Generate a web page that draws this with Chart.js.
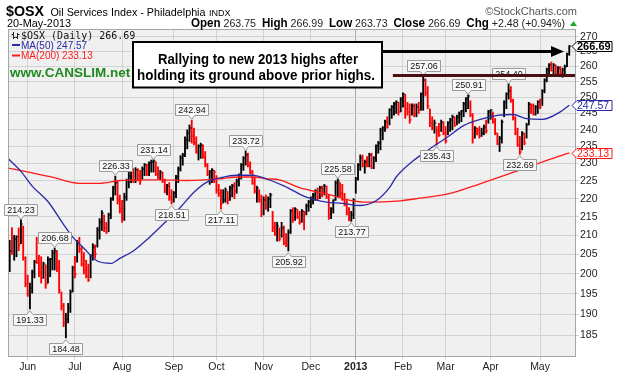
<!DOCTYPE html>
<html><head><meta charset="utf-8">
<script src="https://cdn.jsdelivr.net/npm/chart.js@4.4.0/dist/chart.umd.min.js"></script>
<style>html,body{margin:0;padding:0;background:#fff;overflow:hidden}canvas{display:block}</style>
</head><body><canvas id="c" width="618" height="375"></canvas>
<script>
// ---- data (daily bars, index 0 = 21-May-2012 ... 249 = 20-May-2013) ----
const highs = [
208.7,212.1,210.0,209.9,212.0,214.23,212.5,204.4,199.7,197.7,
201.0,203.5,209.5,204.8,204.4,203.0,202.3,204.4,204.0,206.1,
206.68,206.0,203.5,195.5,192.7,190.3,192.7,196.0,202.0,204.5,
208.7,209.5,207.0,205.5,203.5,202.5,205.0,207.8,207.5,212.1,
214.5,216.7,215.5,213.5,216.0,220.3,223.5,226.33,225.0,221.0,
219.5,221.5,225.5,227.5,228.5,228.5,228.8,228.5,228.0,229.0,
230.0,229.8,230.5,231.0,231.14,230.5,229.0,228.0,227.5,225.5,
224.0,224.5,222.5,222.0,226.6,229.0,232.3,233.0,237.9,240.0,
241.5,242.94,240.5,237.9,235.5,236.0,235.5,233.5,230.0,228.0,
228.5,228.0,226.5,224.0,222.5,222.5,223.0,222.0,223.5,224.0,
224.5,225.5,227.0,230.0,232.0,233.72,233.0,230.5,228.0,226.0,
223.5,222.5,221.0,220.5,221.0,220.5,221.5,216.5,213.5,213.5,
212.0,213.5,212.5,210.5,211.5,217.0,217.5,217.5,217.0,216.5,
217.0,216.5,218.5,219.5,220.5,221.5,222.5,223.0,223.5,223.5,
224.0,223.5,221.0,217.5,219.7,225.0,225.58,224.5,224.0,221.5,
219.5,217.5,216.5,220.0,226.0,230.0,232.5,232.5,231.0,232.0,
233.0,233.0,232.0,235.5,236.5,240.5,241.0,243.0,244.0,246.5,
247.5,248.5,249.0,248.5,250.0,251.5,251.0,248.5,248.0,248.0,
248.0,248.0,248.5,251.5,257.06,256.0,253.5,246.5,244.0,243.0,
241.0,242.0,243.0,242.5,241.0,242.5,243.5,244.5,244.0,244.5,
245.5,246.0,248.5,250.0,250.91,249.0,245.0,241.0,240.5,241.0,
240.5,241.5,243.0,246.0,246.2,245.5,243.5,239.0,238.0,243.0,
249.0,251.5,254.4,253.5,249.5,244.0,240.5,238.0,239.5,239.0,
242.0,248.5,248.0,248.0,247.5,249.0,249.5,252.5,256.0,259.5,
261.0,261.5,261.0,260.5,260.0,260.0,259.5,260.5,264.5,266.99];
const lows = [
200.6,205.0,203.5,204.4,206.0,207.8,203.5,196.8,194.4,191.33,
195.2,199.0,202.7,199.3,197.7,198.9,196.4,197.7,199.3,201.0,
201.0,200.6,195.2,191.1,187.1,184.48,188.0,190.5,195.5,199.0,
203.0,205.5,202.0,200.0,199.0,198.1,199.0,203.5,204.0,206.9,
209.0,211.3,211.0,210.5,211.0,214.5,219.5,221.0,218.5,216.0,
213.5,214.0,219.5,223.0,224.5,224.5,224.5,225.0,224.0,225.5,
226.5,226.5,226.5,227.5,227.5,226.5,225.5,225.3,224.5,221.6,
221.0,219.5,218.51,219.0,220.3,224.5,227.8,229.5,232.0,234.3,
236.5,236.0,235.5,233.0,231.0,231.5,231.5,229.0,226.5,224.0,
224.5,224.5,221.5,220.6,217.11,218.8,219.0,218.5,219.5,220.5,
220.0,221.5,223.5,225.5,228.0,229.5,229.0,227.0,224.0,221.5,
219.0,219.0,215.0,215.5,217.0,216.5,217.5,211.0,210.0,208.5,
208.5,209.5,207.5,207.0,205.92,210.5,213.5,214.0,214.5,213.0,
213.5,211.5,215.5,216.5,217.5,218.5,219.5,219.5,220.0,220.5,
221.0,220.0,214.3,214.5,216.0,219.5,220.5,220.5,219.5,218.0,
215.5,213.9,213.77,214.5,221.5,225.2,228.0,229.0,227.2,229.0,
229.0,228.5,228.5,230.5,233.0,234.0,237.0,239.5,240.5,241.5,
243.5,244.5,245.0,244.5,245.5,247.0,243.5,244.5,242.0,244.5,
244.0,244.0,245.0,246.0,246.0,250.5,246.5,241.0,240.0,239.0,
235.43,238.0,239.5,238.5,236.0,238.5,239.5,240.0,241.0,241.5,
242.0,242.5,244.0,245.5,246.5,244.0,236.0,237.5,238.5,237.5,
238.0,238.5,239.0,242.0,243.2,242.0,238.5,235.5,233.5,236.0,
244.0,246.5,249.5,248.5,243.0,238.5,235.0,232.69,234.0,235.5,
237.5,241.5,245.0,244.5,244.5,245.0,246.5,247.5,251.5,255.0,
257.5,258.5,257.5,257.0,257.0,257.5,256.5,257.5,260.0,263.73];
const closes = [
206.0,205.5,209.0,209.5,207.5,213.0,204.0,197.5,195.0,196.5,
200.5,203.0,202.8,200.5,199.0,202.5,197.5,203.5,203.8,205.5,
206.0,201.5,196.0,192.0,188.0,189.0,191.5,195.5,201.5,200.0,
208.0,206.5,202.5,201.0,199.5,198.5,204.5,207.0,205.0,211.5,
213.5,216.0,212.0,211.0,215.5,219.8,223.0,224.5,219.5,217.0,
214.5,220.5,225.0,226.5,228.0,225.0,228.0,226.5,225.0,228.5,
229.5,227.0,230.0,230.5,230.8,227.0,226.0,227.5,225.0,222.5,
223.5,220.5,219.5,221.5,226.0,228.5,231.5,232.5,237.0,239.0,
240.5,238.0,236.0,233.5,235.0,235.5,232.0,229.5,227.0,227.5,
228.0,227.5,222.5,221.5,218.5,219.5,222.5,219.5,223.0,223.5,
222.0,225.0,226.5,229.5,231.5,232.5,229.5,227.5,224.5,222.0,
223.0,219.5,216.0,219.5,218.0,220.0,221.0,212.0,210.5,212.5,
209.0,212.0,208.0,207.5,211.0,216.5,214.0,217.0,215.0,213.5,
216.5,216.0,218.0,219.0,220.0,221.0,222.0,220.5,223.0,221.5,
223.5,220.5,215.0,217.0,219.5,224.5,225.0,221.5,220.0,218.5,
216.0,214.0,215.5,219.5,225.5,229.5,231.5,229.5,230.5,229.5,
232.5,229.0,231.5,235.0,236.0,240.0,240.5,242.5,241.0,246.0,
247.0,248.0,248.5,245.5,249.5,251.0,246.5,245.5,243.0,247.5,
245.0,247.0,246.0,251.0,255.5,251.5,247.5,242.0,240.5,242.0,
239.5,238.5,242.5,239.0,236.5,242.0,243.0,244.0,241.5,244.0,
245.0,245.8,248.0,249.5,250.5,244.5,237.5,240.5,240.0,238.0,
239.0,241.0,239.5,245.5,246.0,242.5,239.0,236.0,237.5,242.5,
248.5,251.0,252.0,249.0,243.5,239.0,235.5,233.5,239.0,236.0,
241.5,248.0,247.5,245.0,247.0,248.5,247.0,252.0,255.5,259.0,
260.5,259.0,260.5,257.5,259.5,258.0,259.0,260.0,264.21,266.69];

const ma50Idx = [-1,5,10,17,24,28,33,39,45,49,55,62,70,76,82,88,94,101,108,114,122,132,141,148,156,163,169,172,180,187,195,202,209,217,224,230,237,245,249];
const ma50 = [231.6,227.7,223.5,219.2,212.9,209.6,206.6,203.3,202.7,204.0,205.9,209.4,214.0,217.6,221.8,224.7,225.9,226.6,226.6,225.6,223.6,220.4,219.0,218.7,218.1,219.4,223.1,226.1,231.0,234.3,237.9,241.3,243.1,244.4,244.7,243.4,243.2,245.5,247.57];
const ma200Idx = [-1,9,18,31,40,49,58,67,79,94,102,108,114,120,129,141,151,159,174,180,195,209,224,239,249];
const ma200 = [228.7,227.4,226.2,224.3,224.3,225.1,225.3,225.3,225.1,225.6,226.1,226.1,225.6,225.3,223.1,221.3,219.6,219.0,219.4,219.9,221.3,224.1,227.4,230.9,233.13];

const monthTickIdx = [8,29,50,73,92,113,134,154,175,194,214,236];
const monthLabels = ['Jun','Jul','Aug','Sep','Oct','Nov','Dec','2013','Feb','Mar','Apr','May'];
const yTicks = [185,190,195,200,205,210,215,220,225,230,235,240,245,250,255,260,265,270];

const calloutIdx  = [5,9,20,25,47,64,72,81,94,105,124,146,152,184,190,204,222,227];
const calloutSide = ['high','low','high','low','high','high','low','high','low','high','low','high','low','high','low','high','high','low'];

const titleSym = '$OSX', titleName = 'Oil Services Index - Philadelphia', titleExch = 'INDX';
const dateLabel = '20-May-2013';
const ohlcLabels = ['Open','High','Low','Close','Chg'];
const ohlcValues = ['263.75','266.99','263.73','266.69','+2.48 (+0.94%)'];
const noteLines = ['Rallying to new 2013 highs after','holding its ground above prior highs.'];

// ---- styling ----
const SANS = "Arial, 'Liberation Sans', Helvetica, sans-serif";
const MONO = "'DejaVu Sans Mono', 'Liberation Mono', monospace";
const RED = '#ff0000', BLUE = '#2a2aa6', RED_MA = '#ff1a1a', GREEN = '#1f8a1f';
const barColors = closes.map((c,i)=> (i>0 && c<closes[i-1]) ? RED : '#000000');

const decor = {
  id:'decor',
  beforeDraw(chart){
    const {ctx, chartArea:a} = chart;
    ctx.save();
    ctx.fillStyle='#ffffff'; ctx.fillRect(0,0,chart.width,chart.height);
    ctx.fillStyle='#f0f0f0'; ctx.fillRect(a.left,a.top,a.right-a.left,a.bottom-a.top);
    ctx.restore();
  },
  afterDatasetDraw(chart,args){
    if(args.index!==2) return;
    const {ctx, chartArea:a} = chart; const xs=chart.scales.x, ys=chart.scales.y;
    ctx.save(); ctx.beginPath(); ctx.rect(a.left,a.top,a.right-a.left,a.bottom-a.top); ctx.clip();
    closes.forEach((c,i)=>{
      const x=xs.getPixelForValue(i), y=ys.getPixelForValue(c);
      ctx.fillStyle=barColors[i]; ctx.fillRect(x+0.3, Math.round(y)-0.5, 1.6, 1);
    });
    ctx.restore();
  },
  afterDraw(chart){
    const {ctx, chartArea:a} = chart; const xs=chart.scales.x, ys=chart.scales.y;
    ctx.save();
    // plot border
    ctx.strokeStyle='#9ea8a8'; ctx.lineWidth=1;
    ctx.strokeRect(a.left+0.5,a.top+0.5,a.right-a.left-1,a.bottom-a.top-1);

    // callouts
    ctx.font='9px '+SANS; ctx.textAlign='center'; ctx.textBaseline='middle';
    calloutIdx.forEach((i,k)=>{
      const up = calloutSide[k]==='high';
      const v = up ? highs[i] : lows[i];
      const x = xs.getPixelForValue(i), y = ys.getPixelForValue(v);
      const t = v.toFixed(2);
      const w = Math.round(ctx.measureText(t).width)+5, h=11;
      const bx = Math.round(x-w/2)+0.5;
      const by = up ? Math.round(y-5-h)+0.5 : Math.round(y+5)+0.5;
      ctx.beginPath();
      if(up){ ctx.moveTo(bx,by); ctx.lineTo(bx+w,by); ctx.lineTo(bx+w,by+h); ctx.lineTo(x+3,by+h); ctx.lineTo(x,by+h+4); ctx.lineTo(x-3,by+h); ctx.lineTo(bx,by+h); }
      else { ctx.moveTo(bx,by); ctx.lineTo(x-3,by); ctx.lineTo(x,by-4); ctx.lineTo(x+3,by); ctx.lineTo(bx+w,by); ctx.lineTo(bx+w,by+h); ctx.lineTo(bx,by+h); }
      ctx.closePath(); ctx.fillStyle='#f8f8f8'; ctx.fill(); ctx.strokeStyle='#9a9a9a'; ctx.lineWidth=1; ctx.stroke();
      ctx.fillStyle='#111'; ctx.fillText(t, bx+w/2, by+h/2+0.5);
    });

    // prior-high line at 257.06
    const yh = ys.getPixelForValue(highs[184]);
    ctx.strokeStyle='#4b1010'; ctx.lineWidth=3;
    ctx.beginPath(); ctx.moveTo(xs.getPixelForValue(170.5), yh); ctx.lineTo(a.right-1, yh); ctx.stroke();

    // annotation box + arrow
    const ya = ys.getPixelForValue(265);
    ctx.strokeStyle='#000'; ctx.lineWidth=3;
    ctx.beginPath(); ctx.moveTo(382, ya); ctx.lineTo(553, ya); ctx.stroke();
    ctx.fillStyle='#000'; ctx.beginPath(); ctx.moveTo(551,ya-5.5); ctx.lineTo(564,ya); ctx.lineTo(551,ya+5.5); ctx.closePath(); ctx.fill();
    ctx.fillStyle='#fff'; ctx.fillRect(133,42,249,45.5);
    ctx.lineWidth=2; ctx.strokeRect(133,42,249,45.5);
    ctx.fillStyle='#000'; ctx.font='bold 15px '+SANS; ctx.textAlign='center'; ctx.textBaseline='alphabetic';
    ctx.fillText(noteLines[0], 258, 64, 200);
    ctx.fillText(noteLines[1], 256, 80, 238);

    // right value tags
    const tag=(v,txt,col,bold)=>{
      const y=Math.round(ys.getPixelForValue(v))+0.5, x0=572, x1=612;
      ctx.beginPath(); ctx.moveTo(x0,y); ctx.lineTo(x0+5,y-5); ctx.lineTo(x1,y-5); ctx.lineTo(x1,y+5); ctx.lineTo(x0+5,y+5); ctx.closePath();
      ctx.fillStyle='#fff'; ctx.fill(); ctx.strokeStyle=col; ctx.lineWidth=1; ctx.stroke();
      ctx.fillStyle=col; ctx.font=(bold?'bold 11px ':'10.5px ')+SANS; ctx.textAlign='left'; ctx.textBaseline='middle';
      ctx.fillText(txt, x0+5, y+0.5, 34);
    };
    tag(closes[249], closes[249].toFixed(2), '#000', true);
    tag(ma50[ma50.length-1], ma50[ma50.length-1].toFixed(2), BLUE, false);
    tag(ma200[ma200.length-1], ma200[ma200.length-1].toFixed(2), RED_MA, false);

    // legend inside plot
    ctx.textAlign='left'; ctx.textBaseline='alphabetic';
    ctx.strokeStyle='#222'; ctx.lineWidth=1;
    ctx.beginPath();
    ctx.moveTo(13.5,32); ctx.lineTo(13.5,39); ctx.moveTo(11.5,34.5); ctx.lineTo(13.5,34.5); ctx.moveTo(13.5,37.5); ctx.lineTo(15.5,37.5);
    ctx.moveTo(17.5,33); ctx.lineTo(17.5,39); ctx.moveTo(15.5,37.5); ctx.lineTo(17.5,37.5); ctx.moveTo(17.5,34.5); ctx.lineTo(19.5,34.5);
    ctx.stroke();
    ctx.fillStyle='#111'; ctx.font='10px '+MONO;
    ctx.fillText(titleSym+' (Daily) '+closes[249].toFixed(2), 21, 38.5, 117);
    ctx.fillStyle=BLUE; ctx.fillRect(12,44,8,2);
    ctx.font='10px '+SANS; ctx.fillText('MA(50) '+ma50[ma50.length-1].toFixed(2), 21, 48.5);
    ctx.fillStyle=RED_MA; ctx.fillRect(12,54.5,8,2);
    ctx.fillText('MA(200) '+ma200[ma200.length-1].toFixed(2), 21, 59);
    ctx.fillStyle=GREEN; ctx.font='bold 13.5px '+SANS;
    ctx.fillText('www.CANSLIM.net', 10, 76.5, 121);

    // header
    ctx.fillStyle='#000';
    ctx.font='bold 15px '+SANS; ctx.fillText(titleSym, 6, 16, 38);
    ctx.font='11px '+SANS; ctx.fillText(titleName, 50.5, 16, 155);
    ctx.font='9px '+SANS; ctx.fillText(titleExch, 209, 16, 25);
    ctx.fillStyle='#555'; ctx.font='11px '+SANS; ctx.textAlign='right';
    ctx.fillText('\u00A9StockCharts.com', 577, 15);
    ctx.textAlign='left'; ctx.fillStyle='#000';
    ctx.font='11px '+SANS; ctx.fillText(dateLabel, 7, 27, 64);
    const parts=[];
    ohlcLabels.forEach((l,k)=>{ parts.push([l,true]); parts.push([' '+ohlcValues[k]+(k<ohlcLabels.length-1?'  ':''),false]); });
    const fontOf=b=> b ? 'bold 12px '+SANS : '11px '+SANS;
    let W=0; parts.forEach(p=>{ ctx.font=fontOf(p[1]); W+=ctx.measureText(p[0]).width; });
    const s=374/W;
    ctx.save(); ctx.translate(191,27); ctx.scale(s,1);
    let cx=0; parts.forEach(p=>{ ctx.font=fontOf(p[1]); ctx.fillStyle=p[1]?'#000':'#222'; ctx.fillText(p[0],cx,0); cx+=ctx.measureText(p[0]).width; });
    ctx.restore();
    ctx.fillStyle='#22aa22'; ctx.beginPath(); ctx.moveTo(570,26); ctx.lineTo(577,26); ctx.lineTo(573.5,21); ctx.closePath(); ctx.fill();
    ctx.restore();
  }
};

new Chart(document.getElementById('c').getContext('2d'), {
  type:'bar',
  data:{ datasets:[
    {type:'line', label:'MA(50)', data: ma50Idx.map((x,k)=>({x, y:ma50[k]})), borderColor:BLUE, borderWidth:1.3, pointRadius:0, cubicInterpolationMode:'monotone', fill:false, order:0},
    {type:'line', label:'MA(200)', data: ma200Idx.map((x,k)=>({x, y:ma200[k]})), borderColor:RED_MA, borderWidth:1.3, pointRadius:0, cubicInterpolationMode:'monotone', fill:false, order:1},
    {type:'bar', label:'$OSX', data: highs.map((h,i)=>({x:i, y:[lows[i], h]})), backgroundColor:barColors, borderWidth:0, barThickness:1.2, grouped:false, order:2}
  ]},
  options:{
    responsive:false, animation:false, devicePixelRatio:1,
    layout:{padding:{left:8, top:29, right:0, bottom:0}},
    plugins:{legend:{display:false}, tooltip:{enabled:false}},
    scales:{
      x:{ type:'linear', min:-0.76, max:252.0, offset:false,
          afterBuildTicks:s=>{ s.ticks = monthTickIdx.map(v=>({value:v})); },
          afterFit:s=>{ s.height=18; },
          ticks:{ autoSkip:false, maxRotation:0, minRotation:0, padding:1, color:'#222',
                  font:c=>({family:SANS, size:10.5, weight:(c.tick && c.tick.value===154)?'bold':'normal'}),
                  callback:(v,i)=>monthLabels[i] },
          grid:{ offset:false, color:c=>(c.tick && c.tick.value===154)?'#aaaaaa':'#d3d3d3', tickLength:3, drawTicks:true },
          border:{display:false} },
      y:{ type:'logarithmic', position:'right', min:180.06, max:272.65,
          afterBuildTicks:s=>{ s.ticks = yTicks.map(v=>({value:v})); },
          afterFit:s=>{ s.width=42; },
          ticks:{ autoSkip:false, padding:1, color:'#222', font:{family:SANS, size:10.5}, callback:v=>String(v) },
          grid:{ color:'#d3d3d3', tickLength:3, drawTicks:true },
          border:{display:false} }
    }
  },
  plugins:[decor]
});
</script>
</body></html>
